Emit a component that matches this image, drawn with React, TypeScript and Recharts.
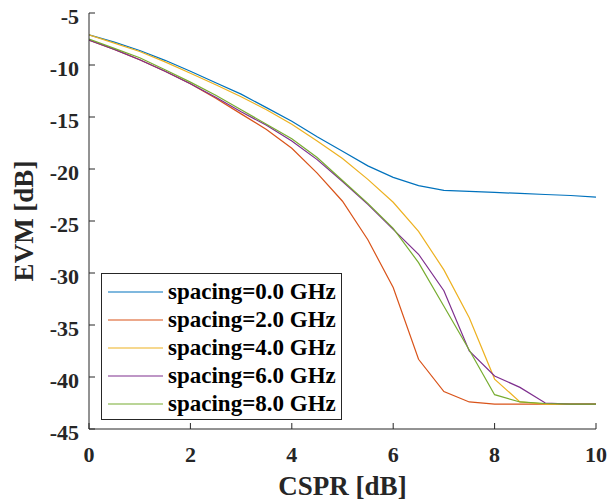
import React from 'react';
import { LineChart, Line, XAxis, YAxis, Legend } from 'recharts';

const FONT = '"Liberation Serif", "Times New Roman", serif';
const AXIS_COLOR = '#262626';

const cspr = [0, 0.5, 1, 1.5, 2, 2.5, 3, 3.5, 4, 4.5, 5, 5.5, 6, 6.5, 7, 7.5, 8, 8.5, 9, 9.5, 10];

const evmSpacing0 = [-7.1, -7.8, -8.6, -9.55, -10.6, -11.7, -12.8, -14.1, -15.4, -16.9, -18.3, -19.7, -20.8, -21.6, -22.05, -22.15, -22.25, -22.35, -22.45, -22.55, -22.7];
const evmSpacing2 = [-7.6, -8.5, -9.5, -10.6, -11.8, -13.2, -14.7, -16.2, -18.0, -20.4, -23.1, -26.8, -31.4, -38.3, -41.4, -42.4, -42.6, -42.6, -42.6, -42.6, -42.6];
const evmSpacing4 = [-7.1, -7.9, -8.7, -9.7, -10.8, -11.9, -13.05, -14.3, -15.7, -17.3, -19.0, -21.0, -23.2, -26.0, -29.7, -34.3, -40.2, -42.4, -42.6, -42.6, -42.6];
const evmSpacing6 = [-7.6, -8.5, -9.5, -10.6, -11.8, -13.1, -14.5, -15.8, -17.3, -19.1, -21.2, -23.4, -25.8, -28.2, -31.7, -37.5, -39.9, -41.0, -42.5, -42.6, -42.6];
const evmSpacing8 = [-7.5, -8.4, -9.3, -10.45, -11.65, -12.9, -14.3, -15.7, -17.1, -18.9, -21.1, -23.3, -25.7, -29.0, -33.2, -37.4, -41.7, -42.4, -42.55, -42.6, -42.6];

const seriesNames = ['spacing=0.0 GHz', 'spacing=2.0 GHz', 'spacing=4.0 GHz', 'spacing=6.0 GHz', 'spacing=8.0 GHz'];
const seriesColors = ['#0072BD', '#D95319', '#EDB120', '#7E2F8E', '#77AC30'];
const seriesValues = [evmSpacing0, evmSpacing2, evmSpacing4, evmSpacing6, evmSpacing8];

const xTicks = [0, 2, 4, 6, 8, 10];
const yTicks = [-45, -40, -35, -30, -25, -20, -15, -10, -5];

const data = cspr.map((x, i) => {
  const row: Record<string, number> = { x };
  seriesValues.forEach((s, k) => {
    row['s' + k] = s[i];
  });
  return row;
});

const tickStyle = { fill: AXIS_COLOR, fontSize: 22, fontWeight: 'bold', fontFamily: FONT };

const LegendBox = (props: any) => {
  const payload = props.payload || [];
  return (
    <div
      style={{
        border: `1px solid ${AXIS_COLOR}`,
        background: '#fff',
        boxSizing: 'border-box',
        width: 241,
        height: 147,
        paddingTop: 4,
        fontFamily: FONT,
        fontWeight: 'bold',
        fontSize: 23,
        color: '#000',
      }}
    >
      {payload.map((p: any) => (
        <div key={p.value} style={{ display: 'flex', alignItems: 'center', height: 27.9 }}>
          <svg width={62} height={10} style={{ flex: 'none' }}>
            <line x1={6} x2={61} y1={5} y2={5} stroke={p.color} strokeWidth={1.2} />
          </svg>
          <span style={{ marginLeft: 4, whiteSpace: 'nowrap', lineHeight: '27.9px' }}>{p.value}</span>
        </div>
      ))}
    </div>
  );
};

export default function App() {
  return (
    <div style={{ position: 'absolute', left: 0, top: 0, width: 616, height: 504, background: '#fff' }}>
      <LineChart width={616} height={504} data={data} margin={{ top: 13, right: 20, left: 0, bottom: 0 }}>
        <XAxis
          dataKey="x"
          type="number"
          domain={[0, 10]}
          ticks={xTicks}
          allowDataOverflow
          height={75}
          stroke={AXIS_COLOR}
          tickSize={-6}
          tickMargin={23}
          tick={tickStyle}
          label={{ value: 'CSPR [dB]', position: 'center', dy: 19, style: { fill: AXIS_COLOR, fontSize: 27, fontWeight: 'bold', fontFamily: FONT } }}
        />
        <XAxis
          xAxisId="top"
          dataKey="x"
          type="number"
          orientation="top"
          domain={[0, 10]}
          ticks={xTicks}
          allowDataOverflow
          height={0}
          stroke={AXIS_COLOR}
          tickSize={-6}
          tickFormatter={() => ''}
        />
        <YAxis
          type="number"
          domain={[-45, -5]}
          ticks={yTicks}
          allowDataOverflow
          width={89}
          stroke={AXIS_COLOR}
          tickSize={-6}
          tickMargin={16}
          tick={{ ...tickStyle, dy: 3 }}
          label={{ value: 'EVM [dB]', position: 'center', angle: -90, dx: -21, style: { fill: AXIS_COLOR, fontSize: 27, fontWeight: 'bold', fontFamily: FONT } }}
        />
        <YAxis
          yAxisId="right"
          orientation="right"
          type="number"
          domain={[-45, -5]}
          ticks={yTicks}
          allowDataOverflow
          width={0}
          stroke={AXIS_COLOR}
          tickSize={-6}
          tickFormatter={() => ''}
        />
        <Legend
          layout="vertical"
          align="center"
          verticalAlign="middle"
          content={<LegendBox />}
          wrapperStyle={{ position: 'absolute', left: 101, top: 273, width: 241, height: 147 }}
        />
        {seriesValues.map((_, k) => (
          <Line
            key={k}
            dataKey={'s' + k}
            name={seriesNames[k]}
            stroke={seriesColors[k]}
            strokeWidth={1.2}
            dot={false}
            activeDot={false}
            isAnimationActive={false}
            type="linear"
          />
        ))}
      </LineChart>
    </div>
  );
}
